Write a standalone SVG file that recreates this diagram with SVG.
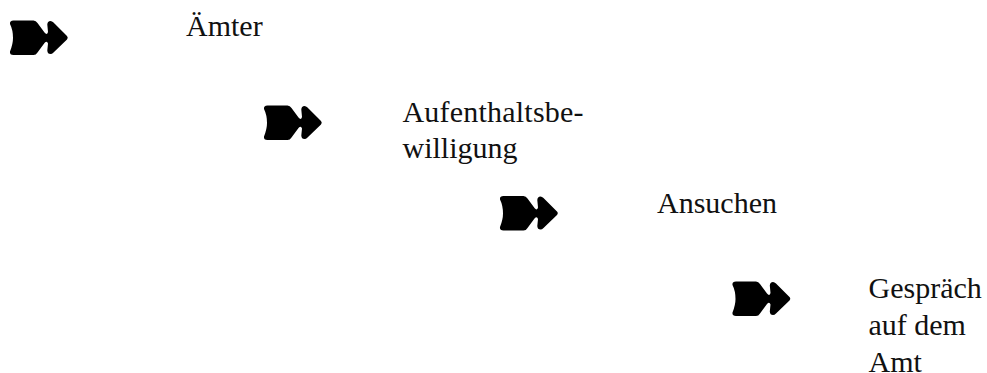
<svg xmlns="http://www.w3.org/2000/svg" width="987" height="373" viewBox="0 0 987 373">
<style>
.t{font-family:"Liberation Serif",serif;font-size:30px;fill:#111}
.a{fill:#000}
</style>
<defs>
<path id="arrow" class="a" d="M13.500 20.500H33.500Q36 20.500 37.500 23L44.500 32.500Q47 35.500 48 32L47.300 24.500Q47.500 21 50.500 21Q52 21 53.500 22.500L67 36Q68.500 37.700 67 39.400L53.500 52.500Q52 54 50.500 54Q47.500 54 47.300 50.500L48 43.500Q47 40.500 44.500 43L37.500 52.500Q36 55 33.500 55H13.500Q9.500 55 10 51.500Q13 44 13 38Q13 30 10 24Q9.500 20.500 13.500 20.500Z"/>
</defs>
<g id="connectors"></g>
<g id="node-aemter"><use href="#arrow"/><text class="t" x="186" y="36">Ämter</text></g>
<g id="node-aufenthalt"><use href="#arrow" x="254" y="85"/><text class="t" x="402.500" y="122" textLength="181">Aufenthaltsbe-</text><text class="t" x="402.500" y="158">willigung</text></g>
<g id="node-ansuchen"><use href="#arrow" x="490" y="175.500"/><text class="t" x="657" y="212.500">Ansuchen</text></g>
<g id="node-gespraech"><use href="#arrow" x="722.500" y="261"/><text class="t" x="868.500" y="298">Gespräch</text><text class="t" x="868.500" y="335">auf dem</text><text class="t" x="868.500" y="371.500">Amt</text></g>
</svg>
